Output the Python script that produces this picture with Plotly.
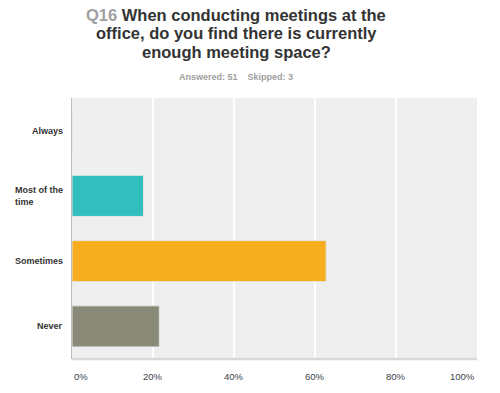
import plotly.graph_objects as go

categories = ["Always", "Most of the time", "Sometimes", "Never"]
category_labels = ["Always", "Most of the<br>time", "Sometimes", "Never"]
values = [0.0, 17.65, 62.75, 21.57]
bar_colors = ["#7a5fa0", "#32bdbe", "#f7ae1e", "#8a8a78"]
x_ticks = [0, 20, 40, 60, 80, 100]
x_tick_labels = ["0%", "20%", "40%", "60%", "80%", "100%"]
title_lines = [
    "<span style='color:#a0a0a0'>Q16</span> When conducting meetings at the",
    "office, do you find there is currently",
    "enough meeting space?",
]
subtitle = "Answered: 51&nbsp;&nbsp;&nbsp;&nbsp;Skipped: 3"

FONT = "Arial, 'Liberation Sans', sans-serif"

fig = go.Figure()
fig.add_trace(go.Bar(
    y=categories, x=values, orientation="h",
    marker=dict(color=bar_colors, line=dict(color="#e6e6e6", width=1)),
    hoverinfo="skip",
))

annotations = []
# title lines
for line, ys in zip(title_lines, [83, 65, 46]):
    annotations.append(dict(
        text=line, xref="paper", yref="paper", x=0.405, y=1,
        xanchor="center", yanchor="middle", yshift=ys, showarrow=False,
        font=dict(family=FONT, size=16.5, color="#333333", weight="bold"),
    ))
annotations.append(dict(
    text=subtitle, xref="paper", yref="paper", x=0.405, y=1,
    xanchor="center", yanchor="middle", yshift=21, showarrow=False,
    font=dict(family=FONT, size=9, color="#a0a0a0", weight="bold"),
))
# y category labels
for cat, lab in zip(categories, category_labels):
    annotations.append(dict(
        text=lab, xref="paper", yref="y", x=0, y=cat, xshift=-7,
        xanchor="right", yanchor="middle", align="left", showarrow=False,
        font=dict(family=FONT, size=9, color="#333333", weight="bold"),
    ))
# x tick labels
for i, (t, lab) in enumerate(zip(x_ticks, x_tick_labels)):
    anchor = "left" if i == 0 else ("right" if i == len(x_ticks) - 1 else "center")
    annotations.append(dict(
        text=lab, xref="x", yref="paper", x=t, y=0,
        xanchor=anchor, yanchor="middle", yshift=-17, showarrow=False,
        font=dict(family=FONT, size=9.5, color="#3a3f4a"),
    ))

fig.update_layout(
    width=500, height=393,
    margin=dict(l=72, r=23, t=98, b=34),
    paper_bgcolor="white", plot_bgcolor="#efefef",
    showlegend=False, bargap=0.37,
    annotations=annotations,
    xaxis=dict(range=[0, 100], tickvals=x_ticks, showticklabels=False,
               showgrid=True, gridcolor="white", gridwidth=2, zeroline=False,
               showline=False, fixedrange=True),
    yaxis=dict(autorange="reversed", showticklabels=False, showgrid=False,
               zeroline=False, showline=True, linecolor="#bdbdbd", linewidth=1,
               fixedrange=True),
    shapes=[dict(type="line", xref="paper", yref="paper", x0=0, x1=1, y0=0, y1=0,
                 line=dict(color="#d8d8d8", width=2.5))],
)

fig.write_html(
    "out.html",
    config={"displayModeBar": False},
    post_script="document.body.style.margin='0';document.body.style.overflow='hidden';",
)
